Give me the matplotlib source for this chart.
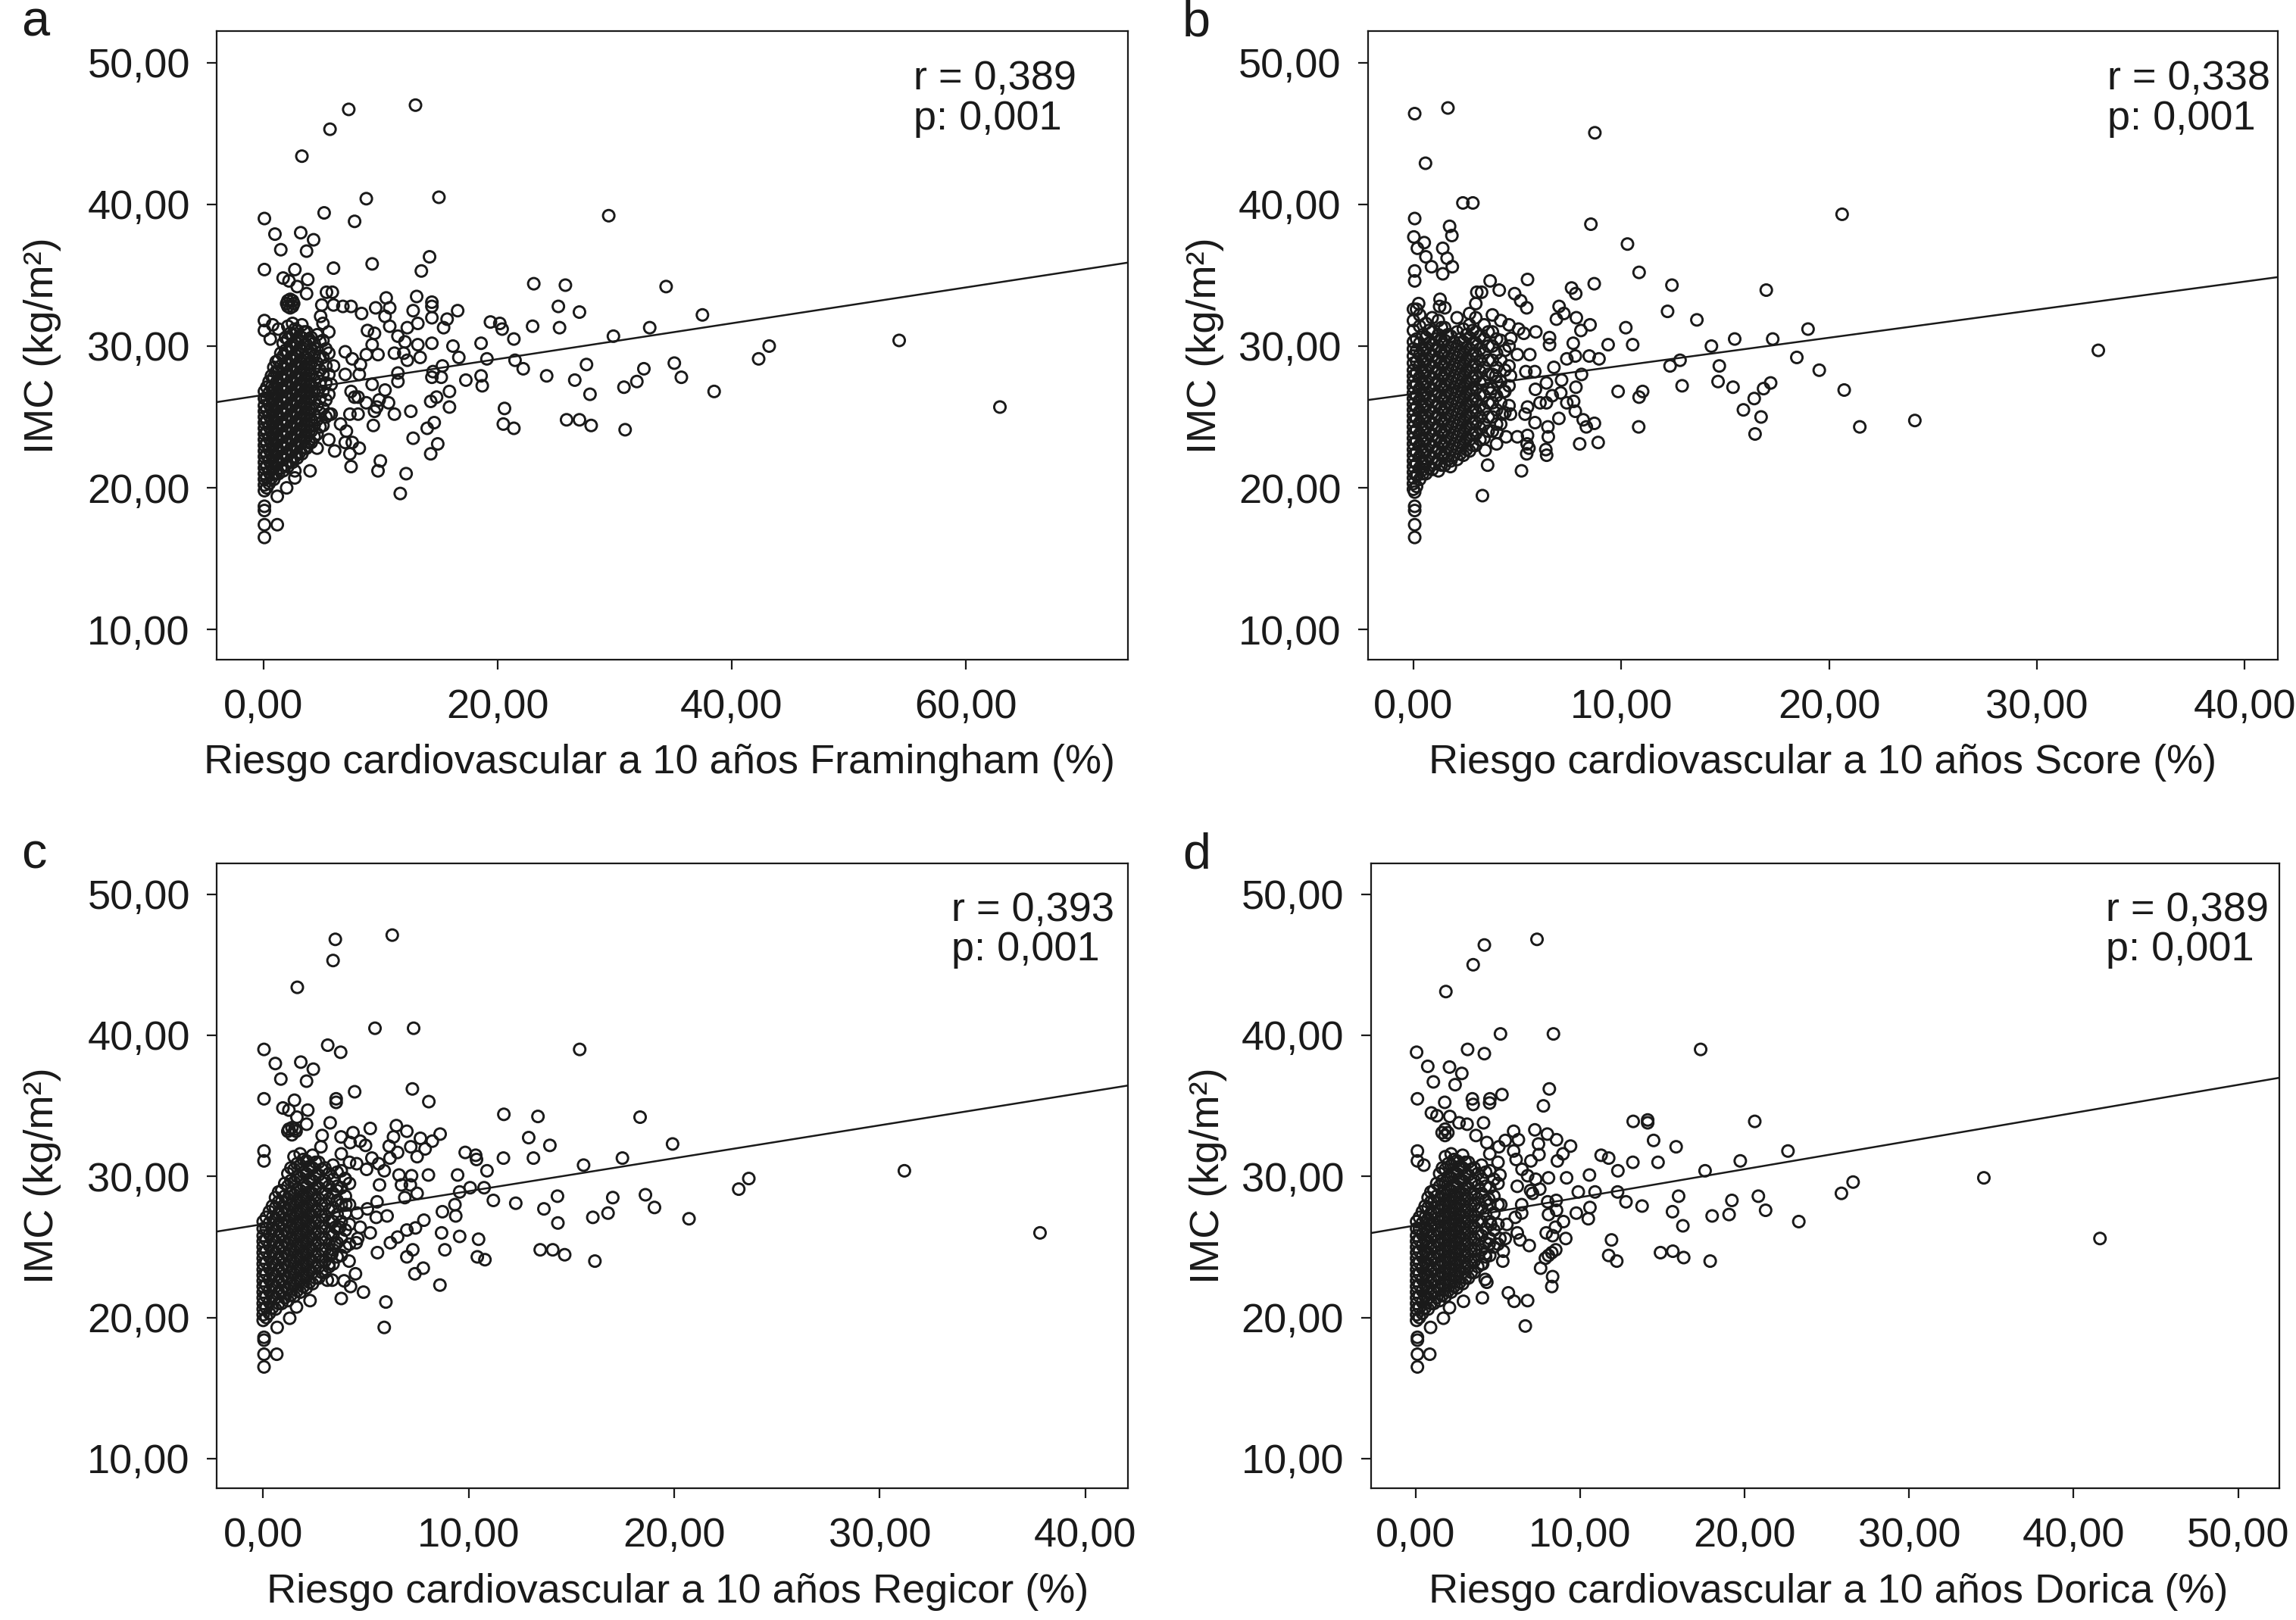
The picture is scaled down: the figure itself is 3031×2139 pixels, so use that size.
import numpy as np
import matplotlib
matplotlib.use('Agg')
import matplotlib.pyplot as plt

# IMC vs 10-year cardiovascular risk (Framingham, Score, Regicor, Dorica)
# values

plt.rcParams['font.family'] = ['Liberation Sans', 'DejaVu Sans']
INK = '#1a1a1a'

# ---- sparse points (risk %, IMC) ----
framingham_pts = [
    (13.0,47.0),(7.3,46.7),(5.7,45.3),(3.3,43.4),(8.8,40.4),(15.0,40.5),(29.5,39.2),(5.2,39.4),
    (7.8,38.8),(0.1,39.0),(1.0,37.9),(3.2,38.0),(4.3,37.5),(1.5,36.8),(3.7,36.7),(14.2,36.3),
    (9.3,35.8),(13.5,35.3),(6.0,35.5),(0.1,35.4),(2.7,35.4),(1.7,34.8),(2.2,34.6),(3.8,34.7),
    (2.9,34.2),(3.7,33.7),(5.4,33.8),(5.9,33.8),(23.1,34.4),(25.8,34.3),(34.4,34.2),(10.5,33.4),
    (13.1,33.5),(14.4,33.1),(14.4,32.8),(14.4,32.0),(16.6,32.5),(12.8,32.5),(15.7,31.9),(15.4,31.3),
    (13.2,31.6),(12.3,31.3),(10.8,32.7),(9.6,32.7),(10.4,32.1),(10.8,31.4),(8.4,32.3),(7.5,32.8),
    (6.8,32.8),(6.0,32.9),(5.0,32.9),(4.9,32.1),(25.2,32.8),(27.0,32.4),(37.5,32.2),(19.4,31.7),
    (20.2,31.6),(20.4,31.2),(23.0,31.4),(25.3,31.3),(33.0,31.3),(29.9,30.7),(21.4,30.5),(18.6,30.2),
    (16.2,30.0),(14.4,30.2),(13.2,30.1),(12.1,30.3),(11.5,30.7),(8.9,31.1),(9.5,30.9),(9.3,30.1),
    (9.8,29.4),(11.2,29.5),(12.0,29.5),(12.3,29.0),(13.4,29.2),(8.8,29.4),(16.7,29.2),(19.1,29.1),
    (21.5,29.0),(22.2,28.4),(27.6,28.7),(32.5,28.4),(35.1,28.8),(35.7,27.8),(42.3,29.1),(43.2,30.0),
    (15.3,28.6),(14.5,28.2),(14.4,27.8),(15.2,27.8),(18.6,27.9),(18.7,27.2),(17.3,27.6),(24.2,27.9),
    (26.6,27.6),(31.9,27.5),(30.8,27.1),(38.5,26.8),(27.9,26.6),(15.9,26.8),(15.9,25.7),(14.8,26.4),
    (14.3,26.1),(11.5,28.1),(11.5,27.5),(10.4,26.9),(10.7,26.0),(9.9,26.2),(9.7,25.7),(9.3,27.3),
    (8.2,28.0),(8.3,28.7),(7.6,29.1),(7.0,29.6),(7.0,28.0),(6.0,28.6),(5.8,27.3),(7.5,26.8),
    (7.8,26.4),(8.1,26.4),(8.8,26.0),(12.6,25.4),(11.2,25.2),(9.5,25.4),(9.4,24.4),(8.1,25.2),
    (7.4,25.2),(5.8,25.2),(6.6,24.5),(7.1,24.0),(7.0,23.2),(7.6,23.2),(8.2,22.8),(7.4,22.4),
    (7.5,21.5),(6.1,22.6),(5.6,23.4),(4.6,22.8),(4.0,21.2),(2.7,21.2),(2.7,20.7),(2.0,20.0),
    (1.2,19.4),(0.1,18.7),(0.1,18.4),(0.1,17.4),(1.2,17.4),(0.1,16.5),(12.8,23.5),(14.0,24.2),
    (14.6,24.6),(14.9,23.1),(14.3,22.4),(20.6,25.6),(20.5,24.5),(21.4,24.2),(25.9,24.8),(27.0,24.8),
    (28.0,24.4),(30.9,24.1),(10.0,21.9),(9.8,21.2),(12.2,21.0),(11.7,19.6),(54.3,30.4),(62.9,25.7),
    (2.0,33.0),(2.3,33.3),(2.6,33.0),(2.3,32.7),(2.1,33.2),(2.5,33.2),(2.1,32.8),(2.5,32.8),
    (0.1,31.8),(0.1,31.1),(0.8,31.5),(1.3,31.2),(0.6,30.5),
]

score_pts = [
    (0.06,46.4),(1.66,46.8),(8.73,45.05),(0.58,42.9),(2.38,40.1),(2.86,40.1),(20.63,39.3),(0.06,39.0),
    (1.74,38.45),(8.54,38.6),(1.85,37.8),(0.02,37.7),(0.52,37.3),(0.19,36.9),(1.41,36.9),(10.3,37.2),
    (0.6,36.3),(1.62,36.2),(0.87,35.6),(1.87,35.6),(1.41,35.1),(0.06,35.3),(0.06,34.6),(10.86,35.2),
    (8.7,34.4),(12.44,34.3),(16.98,33.95),(5.49,34.7),(3.69,34.6),(4.13,33.95),(3.05,33.8),(3.28,33.8),
    (4.87,33.7),(5.16,33.2),(5.45,32.7),(7.61,34.1),(7.81,33.7),(7.01,32.8),(7.24,32.3),(6.88,31.9),
    (7.84,32.0),(8.5,31.5),(8.06,31.1),(12.23,32.45),(13.64,31.85),(10.22,31.3),(10.55,30.1),(9.37,30.1),
    (18.99,31.2),(17.29,30.5),(15.46,30.5),(14.34,30.0),(18.45,29.2),(19.53,28.3),(14.72,28.6),(12.35,28.6),
    (12.83,29.0),(12.93,27.2),(14.66,27.5),(15.38,27.1),(17.19,27.4),(16.85,27.0),(16.4,26.3),(15.88,25.5),
    (16.73,25.0),(20.73,26.9),(21.48,24.3),(24.13,24.75),(16.44,23.8),(9.85,26.8),(11.03,26.8),(10.86,26.4),
    (10.84,24.3),(8.93,29.1),(8.46,29.3),(7.79,29.3),(7.38,29.1),(7.69,30.2),(6.55,30.6),(6.55,30.1),
    (5.89,31.0),(5.31,30.9),(5.06,31.2),(5.6,29.4),(5.0,29.4),(4.69,30.55),(6.76,28.5),(8.09,28.0),
    (7.82,27.1),(7.13,27.6),(7.09,26.7),(6.68,26.5),(7.71,26.1),(7.38,26.0),(7.79,25.4),(6.4,27.4),
    (6.4,26.0),(6.09,26.0),(5.84,28.2),(5.41,28.2),(5.87,26.95),(5.49,25.7),(5.37,25.2),(5.85,24.6),
    (7.0,24.9),(6.47,24.3),(6.49,23.6),(6.37,22.7),(6.41,22.3),(8.17,24.8),(8.32,24.3),(8.71,24.55),
    (8.89,23.2),(8.0,23.1),(5.49,23.7),(5.47,23.1),(5.56,22.8),(5.45,22.4),(5.2,21.2),(5.0,23.6),
    (4.46,23.6),(4.0,23.1),(4.02,23.9),(3.57,21.6),(3.45,22.65),(3.32,19.45),(1.78,21.5),(4.67,25.2),
    (4.27,25.2),(3.96,27.9),(4.67,27.9),(4.35,26.8),(3.71,26.7),(0.06,18.7),(0.06,18.4),(0.06,17.4),
    (0.06,16.5),(0.06,19.7),(0.19,20.9),(0.48,21.3),(0.25,33.0),(0.15,32.6),(1.28,33.3),(1.51,32.7),
    (1.26,32.8),(32.96,29.7),
]

regicor_pts = [
    (6.28,47.1),(3.51,46.8),(3.40,45.3),(1.66,43.4),(5.44,40.5),(7.32,40.5),(15.40,39.0),(0.04,39.0),
    (3.14,39.3),(3.77,38.8),(0.59,38.0),(1.83,38.1),(2.44,37.6),(0.86,36.9),(2.11,36.75),(7.26,36.2),
    (4.45,36.0),(3.55,35.5),(3.55,35.25),(8.06,35.3),(0.04,35.5),(1.52,35.4),(0.96,34.85),(1.25,34.7),
    (2.17,34.7),(1.64,34.2),(2.11,33.7),(3.26,33.8),(11.71,34.4),(13.37,34.25),(18.34,34.2),(2.87,32.9),
    (3.79,32.8),(4.37,33.1),(5.21,33.4),(6.48,33.6),(6.99,33.2),(6.34,32.8),(7.65,32.7),(8.61,33.0),
    (8.23,32.5),(7.18,32.1),(7.88,31.95),(7.49,31.4),(6.13,32.15),(6.54,31.7),(6.17,31.3),(4.98,32.2),
    (4.72,32.5),(4.23,32.4),(2.81,32.1),(12.92,32.75),(13.95,32.2),(19.92,32.3),(9.83,31.7),(10.34,31.5),
    (10.38,31.2),(11.69,31.3),(13.15,31.3),(15.59,30.8),(17.48,31.3),(10.89,30.4),(9.46,30.1),(8.04,30.1),
    (7.22,30.05),(6.61,30.1),(5.29,31.3),(5.62,30.9),(5.89,30.4),(5.03,30.5),(4.55,30.9),(5.66,29.4),
    (6.73,29.4),(7.16,29.4),(7.49,28.8),(6.89,28.5),(10.07,29.2),(10.75,29.2),(9.56,28.9),(11.2,28.3),
    (12.29,28.1),(14.32,28.6),(17.01,28.5),(18.6,28.7),(19.04,27.8),(23.14,29.1),(23.63,29.85),(13.66,27.7),
    (14.34,26.7),(16.04,27.1),(16.78,27.4),(20.72,27.0),(9.33,28.0),(9.37,27.2),(8.72,27.5),(7.82,26.9),
    (7.41,26.35),(6.99,26.2),(6.54,25.7),(6.19,25.3),(8.68,26.0),(9.56,25.75),(10.48,25.55),(8.84,24.8),
    (7.28,24.8),(6.99,24.3),(10.42,24.3),(10.79,24.1),(13.48,24.8),(14.09,24.8),(14.67,24.45),(16.14,24.0),
    (7.79,23.5),(7.38,23.1),(8.6,22.3),(5.56,24.6),(5.21,26.0),(4.72,26.4),(4.53,25.3),(4.6,25.6),
    (4.18,24.0),(4.49,23.1),(3.94,22.6),(4.25,22.2),(4.88,21.8),(3.8,21.35),(5.97,21.1),(5.89,19.3),
    (3.36,22.65),(3.12,22.65),(3.51,25.2),(3.34,24.5),(3.2,23.8),(5.54,28.2),(6.03,27.2),(5.5,27.1),
    (4.57,27.4),(5.07,27.7),(4.02,28.0),(3.59,29.0),(3.98,29.85),(3.51,26.4),(3.73,26.4),(2.28,21.2),
    (1.62,20.75),(1.29,19.95),(0.68,19.3),(0.04,18.6),(0.04,18.4),(0.04,17.4),(0.66,17.4),(0.04,16.5),
    (0.04,31.8),(0.04,31.1),(1.2,33.2),(1.4,33.45),(1.6,33.2),(1.4,32.95),(1.25,33.35),(1.55,33.35),
    (31.2,30.4),(37.8,26.0),
]

dorica_pts = [
    (7.37,46.8),(4.17,46.4),(3.49,45.0),(1.83,43.1),(5.15,40.1),(8.37,40.1),(17.32,39.0),(0.05,38.8),
    (3.15,39.0),(4.17,38.7),(0.73,37.8),(2.05,37.75),(2.8,37.3),(1.07,36.7),(2.39,36.5),(8.12,36.2),
    (5.24,35.8),(4.51,35.5),(4.49,35.2),(3.44,35.5),(3.49,35.1),(7.76,35.0),(0.1,35.5),(1.76,35.25),
    (0.95,34.5),(1.29,34.3),(2.07,34.25),(2.63,33.8),(3.12,33.7),(4.12,33.8),(13.22,33.9),(14.1,34.0),
    (14.1,33.8),(20.61,33.9),(1.6,33.1),(1.78,33.35),(1.95,33.1),(1.78,32.9),(3.66,32.9),(7.24,33.3),
    (8.0,33.0),(8.56,32.6),(9.41,32.15),(8.95,31.6),(8.61,31.1),(5.95,33.2),(6.24,32.6),(5.44,32.55),
    (5.95,31.8),(6.1,31.2),(7.0,31.1),(7.46,32.3),(7.49,31.55),(5.05,32.1),(4.32,32.4),(14.46,32.55),
    (15.83,32.1),(22.63,31.8),(11.27,31.5),(11.73,31.3),(13.2,31.0),(14.73,31.0),(19.73,31.1),(17.59,30.4),
    (12.29,30.4),(10.56,30.1),(9.17,29.9),(8.07,29.9),(6.46,30.5),(6.8,30.05),(7.29,29.8),(6.17,29.3),
    (6.98,29.0),(7.1,28.8),(7.54,29.1),(9.88,28.9),(10.9,28.9),(12.27,28.9),(12.78,28.2),(13.76,27.9),
    (15.98,28.6),(20.83,28.6),(19.22,28.3),(25.88,28.8),(26.59,29.6),(34.54,29.9),(15.61,27.5),(16.24,26.5),
    (18.02,27.2),(19.05,27.3),(21.27,27.6),(23.29,26.8),(10.59,27.8),(10.49,27.0),(9.76,27.4),(8.98,26.8),
    (8.49,26.4),(8.07,27.3),(8.02,28.2),(8.54,28.3),(8.56,27.6),(9.12,25.6),(8.32,25.8),(7.93,26.0),
    (11.9,25.5),(11.73,24.4),(12.22,24.0),(14.88,24.6),(15.63,24.7),(16.29,24.25),(17.9,24.0),(8.51,24.8),
    (8.27,24.6),(8.07,24.4),(7.88,24.2),(7.59,23.5),(8.32,22.9),(8.27,22.2),(6.44,28.0),(6.44,27.4),
    (6.05,27.1),(5.54,26.6),(6.17,26.0),(6.34,25.5),(6.9,25.1),(5.44,25.6),(5.32,24.7),(5.29,24.0),
    (5.63,21.75),(5.98,21.15),(6.8,21.2),(6.66,19.4),(4.22,22.7),(4.32,22.5),(4.05,21.4),(4.46,25.2),
    (4.22,24.5),(4.07,23.8),(5.12,25.6),(4.56,26.6),(4.44,28.4),(5.17,28.0),(5.12,30.1),(2.9,21.15),
    (2.05,20.7),(1.68,19.95),(0.9,19.3),(0.1,18.6),(0.1,18.4),(0.1,17.4),(0.85,17.4),(0.1,16.5),
    (0.1,31.8),(0.1,31.1),(0.49,30.8),(41.6,25.6),
]

# ---- dense core near zero risk: IMC per risk column ----
core_imc = [
    [19.8, 20.2, 20.6, 21.0, 21.4, 21.8, 22.2, 22.6, 23.0, 23.4, 23.8, 24.2, 24.6, 25.0, 25.4, 25.8, 26.3, 26.8],
    [20.3, 21.1, 21.9, 22.7, 23.5, 24.3, 25.1, 25.9, 26.7, 27.5],
    [20.6, 21.4, 22.2, 23.0, 23.8, 24.6, 25.4, 26.2, 27.0, 27.8, 28.5],
    [21.0, 21.8, 22.6, 23.4, 24.2, 25.0, 25.8, 26.6, 27.4, 28.2, 29.0],
    [21.2, 22.0, 22.8, 23.6, 24.4, 25.2, 26.0, 26.8, 27.6, 28.4, 29.3, 30.2],
    [21.5, 22.3, 23.1, 23.9, 24.7, 25.5, 26.3, 27.1, 27.9, 28.7, 29.6, 30.5, 31.4],
    [21.8, 22.6, 23.4, 24.2, 25.0, 25.8, 26.6, 27.4, 28.2, 29.0, 29.9, 30.8, 31.6],
    [22.1, 22.9, 23.7, 24.5, 25.3, 26.1, 26.9, 27.7, 28.5, 29.3, 30.2, 31.1],
    [22.4, 23.2, 24.0, 24.8, 25.6, 26.4, 27.2, 28.0, 28.8, 29.7, 30.6, 31.5],
    [22.8, 23.6, 24.4, 25.2, 26.0, 26.8, 27.6, 28.4, 29.2, 30.1, 31.0],
    [23.2, 24.0, 24.8, 25.6, 26.4, 27.2, 28.0, 28.8, 29.7, 30.6],
    [23.8, 24.8, 25.8, 26.8, 27.8, 28.8, 29.8, 30.8],
    [24.4, 25.6, 26.8, 28.0, 29.2, 30.4, 31.6],
    [25.2, 26.6, 28.0, 29.5, 31.0],
]
# interleaved columns between the ones above
core_imc_mid = [
    [20.0, 20.7, 21.5, 22.3, 23.1, 23.9, 24.7, 25.5, 26.3, 27.1],
    [20.7, 21.5, 22.3, 23.1, 23.9, 24.7, 25.5, 26.3, 27.1, 27.9],
    [21.0, 21.8, 22.6, 23.4, 24.2, 25.0, 25.8, 26.6, 27.4, 28.2, 28.9],
    [21.4, 22.2, 23.0, 23.8, 24.6, 25.4, 26.2, 27.0, 27.8, 28.6, 29.5],
    [21.6, 22.4, 23.2, 24.0, 24.8, 25.6, 26.4, 27.2, 28.0, 28.8, 29.7, 30.6],
    [21.9, 22.7, 23.5, 24.3, 25.1, 25.9, 26.7, 27.5, 28.3, 29.1, 30.0, 30.9],
    [22.2, 23.0, 23.8, 24.6, 25.4, 26.2, 27.0, 27.8, 28.6, 29.4, 30.3, 31.2],
    [22.5, 23.3, 24.1, 24.9, 25.7, 26.5, 27.3, 28.1, 28.9, 29.8, 30.7],
    [22.8, 23.6, 24.4, 25.2, 26.0, 26.8, 27.6, 28.4, 29.2, 30.1, 31.0],
    [23.2, 24.0, 24.8, 25.6, 26.4, 27.2, 28.0, 28.8, 29.6, 30.5],
    [23.6, 24.4, 25.2, 26.0, 26.8, 27.6, 28.4, 29.3, 30.2],
    [24.3, 25.3, 26.3, 27.3, 28.3, 29.3, 30.3],
    [25.0, 26.2, 27.4, 28.6, 29.8],
]
framingham_core_x = [0.1, 0.5, 0.9, 1.3, 1.7, 2.1, 2.5, 2.9, 3.3, 3.7, 4.1, 4.6, 5.1, 5.6]
framingham_mid_x = [0.3, 0.7, 1.1, 1.5, 1.9, 2.3, 2.7, 3.1, 3.5, 3.9, 4.35, 4.85, 5.35]
regicor_core_x = [0.0, 0.3, 0.6, 0.9, 1.2, 1.5, 1.8, 2.1, 2.4, 2.7, 3.0, 3.4, 3.8, 4.2]
regicor_mid_x = [0.15, 0.45, 0.75, 1.05, 1.35, 1.65, 1.95, 2.25, 2.55, 2.85, 3.2, 3.6, 4.0]
dorica_core_x = [0.05, 0.4, 0.75, 1.1, 1.45, 1.8, 2.15, 2.5, 2.85, 3.2, 3.55, 4.0, 4.5, 5.0]
dorica_mid_x = [0.22, 0.57, 0.92, 1.27, 1.62, 1.97, 2.32, 2.67, 3.02, 3.37, 3.77, 4.25, 4.75]

score_core_x = [0.0, 0.3, 0.6, 0.9, 1.2, 1.5, 1.8, 2.1, 2.4, 2.7, 3.0, 3.4, 3.8, 4.2, 4.6]
score_core_imc = [
    [19.9, 20.3, 20.7, 21.1, 21.5, 21.9, 22.3, 22.7, 23.1, 23.5, 23.9, 24.3, 24.7, 25.1, 25.5, 25.9,
     26.3, 26.7, 27.1, 27.5, 27.9, 28.3, 28.8, 29.3, 29.8, 30.3, 31.1, 31.8, 32.6],
    [20.6, 21.4, 22.2, 23.0, 23.8, 24.6, 25.4, 26.2, 27.0, 27.8, 28.6, 29.4, 30.2, 31.4, 32.2],
    [21.0, 21.8, 22.6, 23.4, 24.2, 25.0, 25.8, 26.6, 27.4, 28.2, 29.0, 29.8, 30.6, 31.6],
    [21.3, 22.1, 22.9, 23.7, 24.5, 25.3, 26.1, 26.9, 27.7, 28.5, 29.3, 30.1, 31.0, 32.0],
    [21.2, 22.0, 22.8, 23.6, 24.4, 25.2, 26.0, 26.8, 27.6, 28.4, 29.2, 30.0, 30.8, 31.8],
    [21.6, 22.4, 23.2, 24.0, 24.8, 25.6, 26.4, 27.2, 28.0, 28.8, 29.6, 30.4, 31.3],
    [21.9, 22.7, 23.5, 24.3, 25.1, 25.9, 26.7, 27.5, 28.3, 29.1, 29.9, 30.7],
    [22.0, 22.8, 23.6, 24.4, 25.2, 26.0, 26.8, 27.6, 28.4, 29.2, 30.0, 31.0, 32.0],
    [22.3, 23.1, 23.9, 24.7, 25.5, 26.3, 27.1, 27.9, 28.7, 29.5, 30.3, 31.2],
    [22.6, 23.4, 24.2, 25.0, 25.8, 26.6, 27.4, 28.2, 29.0, 29.8, 30.6, 31.5, 32.3],
    [23.0, 23.8, 24.6, 25.4, 26.2, 27.0, 27.8, 28.6, 29.4, 30.2, 31.0, 32.0, 33.0],
    [23.5, 24.5, 25.5, 26.5, 27.5, 28.5, 29.5, 30.5, 31.5],
    [24.0, 25.0, 26.0, 27.0, 28.0, 29.0, 30.0, 31.0, 32.2],
    [24.5, 26.0, 27.5, 29.0, 30.4, 31.8],
    [25.8, 27.2, 28.6, 30.0, 31.5],
]
score_mid_x = [0.15, 0.45, 0.75, 1.05, 1.35, 1.65, 1.95, 2.25, 2.55, 2.85, 3.2, 3.6, 4.0, 4.4]
score_mid_imc = [
    [20.1, 20.9, 21.7, 22.5, 23.3, 24.1, 24.9, 25.7, 26.5, 27.3, 28.1, 28.9, 29.7, 30.5],
    [21.0, 21.8, 22.6, 23.4, 24.2, 25.0, 25.8, 26.6, 27.4, 28.2, 29.0, 29.8, 30.8],
    [21.4, 22.2, 23.0, 23.8, 24.6, 25.4, 26.2, 27.0, 27.8, 28.6, 29.4, 30.2, 31.1],
    [21.7, 22.5, 23.3, 24.1, 24.9, 25.7, 26.5, 27.3, 28.1, 28.9, 29.7, 30.5],
    [21.6, 22.4, 23.2, 24.0, 24.8, 25.6, 26.4, 27.2, 28.0, 28.8, 29.6, 30.4, 31.3],
    [22.0, 22.8, 23.6, 24.4, 25.2, 26.0, 26.8, 27.6, 28.4, 29.2, 30.0, 30.8],
    [22.3, 23.1, 23.9, 24.7, 25.5, 26.3, 27.1, 27.9, 28.7, 29.5, 30.3],
    [22.4, 23.2, 24.0, 24.8, 25.6, 26.4, 27.2, 28.0, 28.8, 29.6, 30.5],
    [22.7, 23.5, 24.3, 25.1, 25.9, 26.7, 27.5, 28.3, 29.1, 29.9, 30.8],
    [23.0, 23.8, 24.6, 25.4, 26.2, 27.0, 27.8, 28.6, 29.4, 30.2, 31.1],
    [23.4, 24.2, 25.0, 25.8, 26.6, 27.4, 28.2, 29.0, 29.8, 30.7],
    [24.0, 25.0, 26.0, 27.0, 28.0, 29.0, 30.0, 31.0],
    [24.5, 25.5, 26.5, 27.5, 28.5, 29.5, 30.5],
    [25.3, 26.8, 28.3, 29.7],
]

# regression lines (intercept, slope) and correlation
fit_intercept = [26.55, 26.63, 26.62, 26.53]
fit_slope = [0.1265, 0.198, 0.2334, 0.1992]
r_values = ['0,389', '0,338', '0,393', '0,389']
p_values = ['0,001', '0,001', '0,001', '0,001']

panel_letters = ['a', 'b', 'c', 'd']
x_titles = ['Framingham', 'Score', 'Regicor', 'Dorica']
x_ticks = [[0, 20, 40, 60], [0, 10, 20, 30, 40], [0, 10, 20, 30, 40], [0, 10, 20, 30, 40, 50]]
x_limits = [(-3.97, 73.8), (-2.2, 41.6), (-2.26, 42.06), (-2.74, 52.5)]
y_ticks = [10, 20, 30, 40, 50]
y_limits = (7.9, 52.2)


def comma(v):
    return ('%.2f' % v).replace('.', ',')


def expand_core(cols_x, cols_y):
    xs, ys = [], []
    for cx, col in zip(cols_x, cols_y):
        xs += [cx] * len(col)
        ys += col
    return xs, ys


sparse = [framingham_pts, score_pts, regicor_pts, dorica_pts]
cores = [[expand_core(framingham_core_x, core_imc), expand_core(framingham_mid_x, core_imc_mid)],
         [expand_core(score_core_x, score_core_imc), expand_core(score_mid_x, score_mid_imc)],
         [expand_core(regicor_core_x, core_imc), expand_core(regicor_mid_x, core_imc_mid)],
         [expand_core(dorica_core_x, core_imc), expand_core(dorica_mid_x, core_imc_mid)]]

# layout (figure fractions)
rects = [[0.0944, 0.5930, 0.3967, 0.3876],
         [0.5957, 0.5930, 0.3964, 0.3876],
         [0.0944, 0.0813, 0.3967, 0.3859],
         [0.5970, 0.0813, 0.3957, 0.3859]]
xlabel_x = [0.486, 0.500, 0.506, 0.504]
ylabel_x = [-0.171, -0.158, -0.171, -0.158]
text_x = [0.765, 0.813, 0.807, 0.809]
letter_pos = [(0.0092, 0.9776), (0.5150, 0.9776), (0.0092, 0.4642), (0.5150, 0.4642)]

fig = plt.figure(figsize=(30.31, 21.39), dpi=100)

for i in range(4):
    ax = fig.add_axes(rects[i])
    pts = np.array(sparse[i])
    xs = [pts[:, 0]]
    ys = [pts[:, 1]]
    for cx, cy in cores[i]:
        xs.append(np.array(cx))
        ys.append(np.array(cy))
    xs = np.concatenate(xs)
    ys = np.concatenate(ys)
    ax.scatter(xs, ys, s=118, facecolors='none', edgecolors=INK, linewidths=2.1, zorder=2)

    xx = np.array(x_limits[i])
    ax.plot(xx, fit_intercept[i] + fit_slope[i] * xx, color=INK, lw=1.8, zorder=3)

    ax.set_xlim(x_limits[i])
    ax.set_ylim(y_limits)
    ax.set_xticks(x_ticks[i])
    ax.set_xticklabels([comma(v) for v in x_ticks[i]])
    ax.set_yticks(y_ticks)
    ax.set_yticklabels([comma(v) for v in y_ticks])
    ax.tick_params(direction='out', length=9.4, width=1.6, labelsize=39, colors=INK)
    ax.tick_params(axis='x', pad=18)
    ax.tick_params(axis='y', pad=16)
    for sp in ax.spines.values():
        sp.set_linewidth(1.6)
        sp.set_color(INK)

    ax.set_xlabel('Riesgo cardiovascular a 10 años %s (%%)' % x_titles[i], fontsize=39, color=INK)
    ax.xaxis.set_label_coords(xlabel_x[i], -0.135)
    ax.set_ylabel('IMC (kg/m²)', fontsize=39, color=INK)
    ax.yaxis.set_label_coords(ylabel_x[i], 0.5)

    ax.text(text_x[i], 0.908, 'r = ' + r_values[i], transform=ax.transAxes,
            fontsize=39, color=INK, va='baseline', ha='left')
    ax.text(text_x[i], 0.844, 'p: ' + p_values[i], transform=ax.transAxes,
            fontsize=39, color=INK, va='baseline', ha='left')

    fig.text(letter_pos[i][0], letter_pos[i][1], panel_letters[i], fontsize=48,
             color=INK, va='baseline', ha='left')

fig.savefig('out.png', dpi=100)
plt.close(fig)
